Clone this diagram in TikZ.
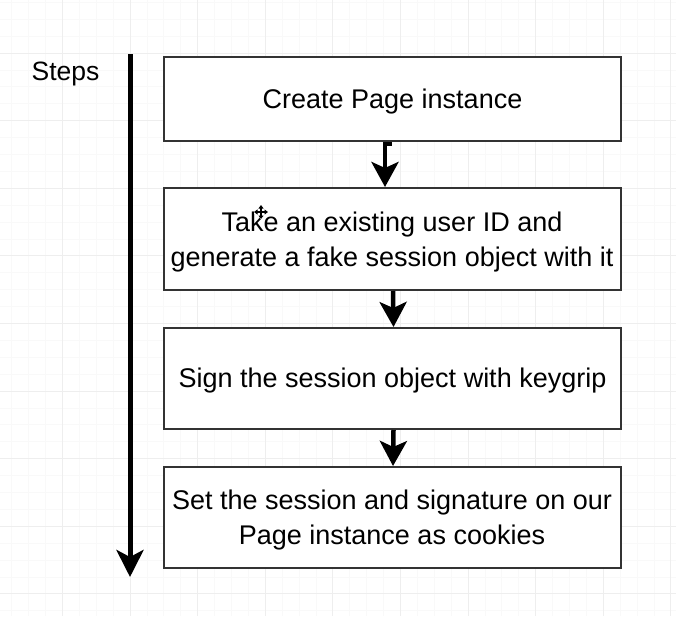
\documentclass[tikz,border=0pt]{standalone}
\usepackage{fontspec}
\setmainfont{Liberation Sans}
\usetikzlibrary{arrows.meta}
\definecolor{gridmajor}{HTML}{EEEEEE}
\definecolor{gridminor}{HTML}{F9F9F9}
\definecolor{boxline}{HTML}{333333}
\begin{document}
\begin{tikzpicture}[x=1pt,y=-1pt,
  stepbox/.style={draw=boxline, line width=2pt, fill=white, minimum width=457pt, inner sep=0pt},
  steptext/.style={align=center, inner sep=0pt, font=\fontsize{27}{35}\selectfont},
  flow/.style={line width=4.5pt, -{Stealth[length=25pt,width=27pt,inset=6pt]}},
  timeline/.style={line width=5pt, -{Stealth[length=27pt,width=27pt,inset=7pt]}},
  label/.style={font=\fontsize{26.5}{35}\selectfont, inner sep=0pt}]

% canvas and background grid
\fill[white] (0,0) rectangle (676,616);
\useasboundingbox (0,0) rectangle (676,616);
\foreach \k in {-7,...,32} {\draw[gridminor, line width=0.8pt] ({130+16.9*\k},0) -- ++(0,616);}
\foreach \k in {-3,...,33} {\draw[gridminor, line width=0.8pt] (0,{53+16.9*\k}) -- ++(676,0);}
\foreach \k in {-1,...,8} {\draw[gridmajor, line width=1pt] ({130+67.6*\k},0) -- ++(0,616);}
\foreach \k in {-1,...,8} {\draw[gridmajor, line width=1pt] (0,{53+67.6*\k}) -- ++(676,0);}

% timeline on the left
\node[label, anchor=base] (steps) at (65.5,80) {Steps};
\coordinate (tlstart) at (130,54);
\coordinate (tlend) at (130,577);
\draw[timeline] (tlstart) -- (tlend);

% the four step boxes
\node[stepbox, minimum height=84pt] (b1) at (392.5,99) {};
\node[stepbox, minimum height=102pt] (b2) at (392,239) {};
\node[stepbox, minimum height=101pt] (b3) at (392.5,378.5) {};
\node[stepbox, minimum height=101pt] (b4) at (392,517.5) {};

% their texts
\node[steptext] (t1) at ([yshift=-2.5pt]b1.center) {Create Page instance};
\node[steptext] (t2) at ([yshift=-3pt]b2.center) {Take an existing user ID and\\generate a fake session object with it};
\node[steptext] (t3) at ([yshift=-2.5pt]b3.center) {Sign the session object with keygrip};
\node[steptext] (t4) at ([yshift=-3pt]b4.center) {Set the session and signature on our\\Page instance as cookies};

% connectors
\draw[flow] ([shift={(-1,2)}]b1.south) -| ([xshift=-7pt]b2.north);
\draw[flow] ([xshift=1pt]b2.south) -- ([xshift=1pt]b3.north);
\draw[flow] ([xshift=1pt]b3.south) -- ([xshift=1pt]b4.north);

% move cursor
\begin{scope}[shift={(261,212)}]
  \draw[white, line width=3pt] (-7,0) -- (7,0) (0,-7) -- (0,7);
  \draw[line width=1.3pt, {Triangle[length=3.5pt,width=5pt]}-{Triangle[length=3.5pt,width=5pt]}] (-7,0) -- (7,0);
  \draw[line width=1.3pt, {Triangle[length=3.5pt,width=5pt]}-{Triangle[length=3.5pt,width=5pt]}] (0,-7) -- (0,7);
\end{scope}
\end{tikzpicture}
\end{document}
